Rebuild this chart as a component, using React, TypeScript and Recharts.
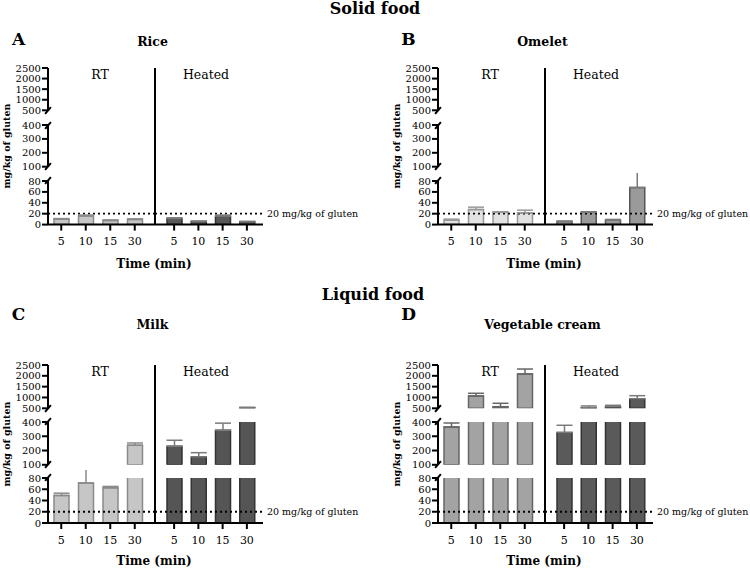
import React from 'react'
import { BarChart, Bar, XAxis, YAxis, ErrorBar, ReferenceLine } from 'recharts'

const times = ['5', '10', '15', '30']

const riceRT = [10, 16, 7.5, 9.5]
const riceRTErr = [1, 1.5, 1, 1]
const riceHeated = [11, 5.5, 15.5, 5]
const riceHeatedErr = [1.5, 1, 2, 1]

const omeletRT = [8, 27.5, 22.5, 21.5]
const omeletRTErr = [2, 4.5, 1, 5]
const omeletHeated = [5.5, 22.5, 8.5, 68]
const omeletHeatedErr = [1, 1, 1, 35]

const milkRT = [49, 71, 62.5, 237]
const milkRTErr = [4, 30, 2.5, 16]
const milkHeated = [230, 155, 342, 530]
const milkHeatedErr = [42, 30, 50, 15]

const vegRT = [365, 1068, 574, 2084]
const vegRTErr = [28, 125, 157, 230]
const vegHeated = [326, 528, 574, 943]
const vegHeatedErr = [51, 80, 64, 140]

// y-axis is broken into three pieces, top to bottom
const topTicks = [500, 1000, 1500, 2000, 2500]
const midTicks = [100, 200, 300, 400]
const botTicks = [0, 20, 40, 60, 80]
const segmentTicks = [topTicks, midTicks, botTicks]

const glutenLimit = 20
const limitLabel = '20 mg/kg of gluten'

// rows for one piece of the broken axis: a bar only where it reaches into the piece,
// its error bar only in the piece that holds the bar top
const toRows = (values: number[], errs: number[], lo: number, hi: number) =>
  times.map((t, i) => ({
    time: t,
    value: values[i] > lo ? values[i] : null,
    err: values[i] > lo && values[i] <= hi ? [0, errs[i]] : null,
  }))

const rowGeom = [
  {
    seg: [[67.7, 110], [125, 166.7], [180.7, 224.3]],
    letterY: 39, titleY: 41.7, groupY: 75, timeY: 264, ylabelY: 146,
  },
  {
    seg: [[365, 408.3], [421.7, 464.5], [477.5, 522.5]],
    letterY: 313.5, titleY: 325, groupY: 371.7, timeY: 561, ylabelY: 444,
  },
]

const PAD = 8
const AXIS_H = 30
const DIVIDER_X = 155

function Txt({ x, y, size, bold, children, rotate }: any) {
  return (
    <div
      style={{
        position: 'absolute', left: x, top: y, fontSize: size,
        fontWeight: bold ? 'bold' : 'normal', whiteSpace: 'nowrap', lineHeight: 1,
        transform: `translate(-50%, -50%)${rotate ? ' rotate(-90deg)' : ''}`,
      }}
    >
      {children}
    </div>
  )
}

function Segment({ values, errs, ticks, bottom, rt, y0, y1, fill, stroke, errStroke }: any) {
  const lo = ticks[0]
  const hi = ticks[ticks.length - 1]
  const data = toRows(values, errs, lo, hi)
  const plotH = y1 - y0
  const height = plotH + PAD + (bottom ? AXIS_H : PAD)
  const width = rt ? DIVIDER_X : 220
  return (
    <div style={{ position: 'absolute', left: rt ? 0 : DIVIDER_X, top: y0 - PAD }}>
      <BarChart
        width={width}
        height={height}
        data={data}
        margin={{ top: PAD, bottom: bottom ? 0 : PAD, left: 0, right: rt ? 0 : 112 }}
        barSize={15}
      >
        <XAxis
          dataKey="time"
          hide={!bottom}
          height={AXIS_H}
          padding={rt ? { left: 1, right: 8 } : { left: 7, right: 4 }}
          axisLine={{ stroke: '#000', strokeWidth: 2 }}
          tickLine={{ stroke: '#000', strokeWidth: 2 }}
          tickSize={6}
          tickMargin={7}
          interval={0}
          tick={{ fill: '#000', fontSize: 11 }}
        />
        <YAxis
          hide={!rt}
          width={48}
          domain={[lo, hi]}
          ticks={ticks}
          interval={0}
          allowDataOverflow
          axisLine={{ stroke: '#000', strokeWidth: 2 }}
          tickLine={{ stroke: '#000', strokeWidth: 2 }}
          tickSize={6}
          tickMargin={1}
          tick={{ fill: '#000', fontSize: 10 }}
        />
        {bottom && (
          <ReferenceLine
            y={glutenLimit}
            stroke="#000"
            strokeWidth={1.8}
            strokeDasharray="2 3"
            label={rt ? undefined : { value: limitLabel, position: 'right', fill: '#000', fontSize: 9.5, offset: 4 }}
          />
        )}
        <Bar dataKey="value" fill={fill} stroke={stroke} strokeWidth={1.5} isAnimationActive={false}>
          <ErrorBar dataKey="err" direction="y" width={8} stroke={errStroke} strokeWidth={1.5} />
        </Bar>
      </BarChart>
    </div>
  )
}

function Panel({ ox, row, letter, title, rt, rtErr, heated, heatedErr, rtFill, rtStroke, hFill, hStroke }: any) {
  const g = rowGeom[row]
  const breaks = [g.seg[0][1], g.seg[1][0], g.seg[1][1], g.seg[2][0]]
  return (
    <div style={{ position: 'absolute', left: ox, top: 0, width: 375, height: 569 }}>
      <Txt x={18.5} y={g.letterY} size={17} bold>{letter}</Txt>
      <Txt x={152.5} y={g.titleY} size={12.5} bold>{title}</Txt>
      <Txt x={7} y={g.ylabelY} size={9.5} bold rotate>mg/kg of gluten</Txt>
      {g.seg.map((s: number[], i: number) => (
        <React.Fragment key={i}>
          <Segment values={rt} errs={rtErr} ticks={segmentTicks[i]} bottom={i === 2} rt y0={s[0]} y1={s[1]}
            fill={rtFill} stroke={rtStroke} errStroke={rtStroke} />
          <Segment values={heated} errs={heatedErr} ticks={segmentTicks[i]} bottom={i === 2} rt={false}
            y0={s[0]} y1={s[1]} fill={hFill} stroke={hStroke} errStroke="#7a7a7a" />
        </React.Fragment>
      ))}
      {breaks.map((y, i) => (
        <div key={i} style={{
          position: 'absolute', left: 47, top: y - 4.5, width: 2, height: 9,
          background: '#000', transform: 'rotate(40deg)',
        }} />
      ))}
      <div style={{
        position: 'absolute', left: DIVIDER_X - 1, top: g.seg[0][0], width: 2,
        height: g.seg[2][1] - g.seg[0][0], background: '#000',
      }} />
      <Txt x={100} y={g.groupY} size={12.5}>RT</Txt>
      <Txt x={206} y={g.groupY} size={12.5}>Heated</Txt>
      <Txt x={154} y={g.timeY} size={12} bold>Time (min)</Txt>
    </div>
  )
}

export default function App() {
  return (
    <div style={{
      position: 'absolute', left: 0, top: 0, width: 750, height: 569, overflow: 'hidden',
      background: '#fff', fontFamily: "'DejaVu Serif', 'Liberation Serif', serif", color: '#000',
    }}>
      <Txt x={375} y={9} size={16} bold>Solid food</Txt>
      <Txt x={373} y={294.5} size={16} bold>Liquid food</Txt>
      <Panel ox={0} row={0} letter="A" title="Rice"
        rt={riceRT} rtErr={riceRTErr} heated={riceHeated} heatedErr={riceHeatedErr}
        rtFill="#c6c6c6" rtStroke="#8a8a8a" hFill="#585858" hStroke="#333" />
      <Panel ox={390} row={0} letter="B" title="Omelet"
        rt={omeletRT} rtErr={omeletRTErr} heated={omeletHeated} heatedErr={omeletHeatedErr}
        rtFill="#e2e2e2" rtStroke="#999" hFill="#9a9a9a" hStroke="#555" />
      <Panel ox={0} row={1} letter="C" title="Milk"
        rt={milkRT} rtErr={milkRTErr} heated={milkHeated} heatedErr={milkHeatedErr}
        rtFill="#c6c6c6" rtStroke="#8a8a8a" hFill="#555" hStroke="#333" />
      <Panel ox={390} row={1} letter="D" title="Vegetable cream"
        rt={vegRT} rtErr={vegRTErr} heated={vegHeated} heatedErr={vegHeatedErr}
        rtFill="#a3a3a3" rtStroke="#666" hFill="#5a5a5a" hStroke="#333" />
    </div>
  )
}
